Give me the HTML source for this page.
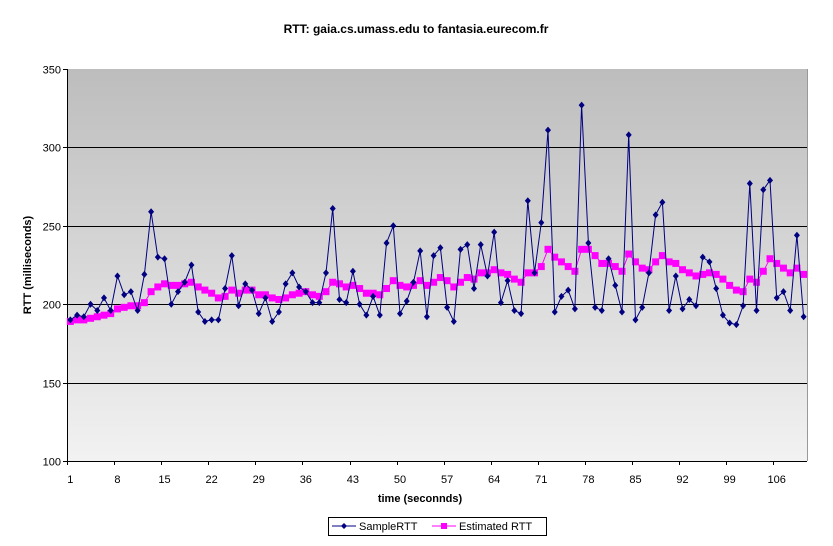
<!DOCTYPE html>
<html><head><meta charset="utf-8"><style>
html,body{margin:0;padding:0;background:#fff;}
svg{display:block;font-family:"Liberation Sans",Arial,sans-serif;}
</style></head><body>
<svg id="chart" width="833" height="546" viewBox="0 0 833 546">
<defs><linearGradient id="bg" x1="0" y1="0" x2="0" y2="1"><stop offset="0" stop-color="#bdbdbd"/><stop offset="1" stop-color="#f2f2f2"/></linearGradient></defs>
<text x="416" y="33" text-anchor="middle" font-size="12" font-weight="bold">RTT: gaia.cs.umass.edu to fantasia.eurecom.fr</text>
<rect x="67" y="69" width="740" height="392" fill="url(#bg)"/>
<g id="grid"></g>
<g id="axes"></g>
<g id="series"></g>
<text transform="translate(31,265) rotate(-90)" text-anchor="middle" font-size="11" font-weight="bold">RTT (milliseconds)</text>
<text x="420" y="502" text-anchor="middle" font-size="11" font-weight="bold">time (seconnds)</text>
<g>
<rect x="328.5" y="517.5" width="218" height="18" fill="#fff" stroke="#000" stroke-width="1"/>
<g>
<line x1="332" y1="526" x2="356" y2="526" stroke="#000080" stroke-width="1"/>
<path d="M344 523 L347 526 L344 529 L341 526 Z" fill="#000080"/>
<text x="359" y="530" font-size="11">SampleRTT</text></g>
<g>
<line x1="432" y1="526" x2="456" y2="526" stroke="#ff00ff" stroke-width="1"/>
<rect x="441" y="523" width="6" height="6" fill="#ff00ff"/>
<text x="459" y="530" font-size="11">Estimated RTT</text></g>
</g>
</svg>
<script>
const sampleRTT=[190,193,192,200,196,204,196,218,206,208,196,219,259,230,229,200,208,214,225,195,189,190,190,210,231,199,213,209,194,204,189,195,213,220,211,208,201,201,220,261,203,201,221,200,193,205,193,239,250,194,202,214,234,192,231,236,198,189,235,238,210,238,218,246,201,215,196,194,266,220,252,311,195,205,209,197,327,239,198,196,229,212,195,308,190,198,220,257,265,196,218,197,203,199,230,227,210,193,188,187,199,277,196,273,279,204,208,196,244,192];
const estimatedRTT=[189,190,190,191,192,193,194,197,198,199,199,201,208,211,213,212,212,213,214,211,209,207,204,205,209,207,209,209,206,206,204,203,204,206,207,208,206,205,208,214,213,211,212,210,207,207,206,210,215,212,211,212,215,212,214,217,215,211,214,217,216,220,220,222,220,219,216,214,220,220,224,235,230,227,224,221,235,235,231,226,226,224,221,232,227,223,222,227,231,227,226,222,220,218,219,220,219,216,212,209,208,216,214,221,229,226,223,220,223,219];
const yTicks=[100,150,200,250,300,350];
const yMin=100,yMax=350,L=67,R=807,T=69,B=461;
const N=sampleRTT.length, w=(R-L)/N;
const xs=i=>L+(i+0.5)*w;
const ys=v=>B-(v-yMin)/(yMax-yMin)*(B-T);
const NS="http://www.w3.org/2000/svg";
function mk(tag,attrs,parent){const e=document.createElementNS(NS,tag);for(const k in attrs)e.setAttribute(k,attrs[k]);parent.appendChild(e);return e;}
const grid=document.getElementById('grid'),axes=document.getElementById('axes'),ser=document.getElementById('series');
yTicks.forEach(t=>{
  const y=Math.round(ys(t))+0.5;
  if(t>yMin&&t<yMax){const g=mk('line',{x1:L,x2:R,y1:y,y2:y,stroke:'#000','stroke-width':1},grid);
  
  }
  const tk=mk('line',{x1:L-4,x2:L,y1:y,y2:y,stroke:'#000'},axes);
  
  
  const tx=mk('text',{x:L-6,y:y+4,'text-anchor':'end','font-size':11},axes);
  tx.textContent=t;
  
  
});
const ya=mk('line',{x1:L+0.5,x2:L+0.5,y1:T,y2:B,stroke:'#000'},axes);


const xa=mk('line',{x1:L,x2:R,y1:B+0.5,y2:B+0.5,stroke:'#000'},axes);


const rb=mk('line',{x1:R+0.5,x2:R+0.5,y1:T,y2:B,stroke:'#999'},axes);


for(let i=0;i<N;i+=7){
  const x=Math.round(L+i*w)+0.5;
  const tk=mk('line',{x1:x,x2:x,y1:B,y2:B+4,stroke:'#000'},axes);
  
  
  const tx=mk('text',{x:xs(i),y:483,'text-anchor':'middle','font-size':11},axes);
  tx.textContent=i+1;
  
  
}
function pts(arr){return arr.map((v,i)=>xs(i).toFixed(1)+','+ys(v).toFixed(1)).join(' ');}
const l1=mk('polyline',{points:pts(estimatedRTT),fill:'none',stroke:'#ff00ff','stroke-width':1},ser);


estimatedRTT.forEach((v,i)=>{
  const r=mk('rect',{x:xs(i)-3.5,y:ys(v)-3.5,width:7,height:7,fill:'#ff00ff'},ser);
  
  
});
const l2=mk('polyline',{points:pts(sampleRTT),fill:'none',stroke:'#000080','stroke-width':1},ser);


sampleRTT.forEach((v,i)=>{
  const x=xs(i),y=ys(v);
  const p=mk('path',{d:`M${x} ${y-3.5}L${x+3} ${y}L${x} ${y+3.5}L${x-3} ${y}Z`,fill:'#000080'},ser);
  
  
});
</script>
</body></html>
